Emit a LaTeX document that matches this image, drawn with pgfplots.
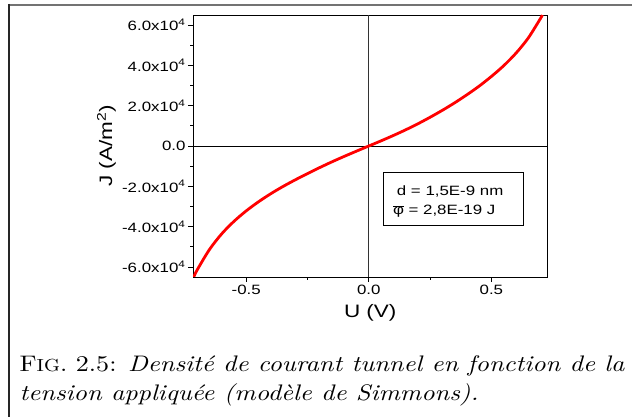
\documentclass[border=0pt]{standalone}
\usepackage{fontspec}
\usepackage{pgfplots}
\pgfplotsset{compat=1.18}
\newfontfamily\chartfont[FakeStretch=1.25]{Liberation Sans}
\newfontfamily\capfont{lmroman10}[Extension=.otf, UprightFont=*-regular, ItalicFont=*-italic, FakeStretch=1.16]
\pgfplotstableread{
U J
-0.714 -65000
-0.70 -61500
-0.65 -51400
-0.60 -43600
-0.55 -37400
-0.50 -32200
-0.45 -27700
-0.40 -23700
-0.35 -20100
-0.30 -16800
-0.25 -13700
-0.20 -10700
-0.15 -7850
-0.10 -5150
-0.05 -2550
0 0
0.05 2550
0.10 5200
0.15 8000
0.20 11000
0.25 14250
0.30 17700
0.35 21400
0.40 25400
0.45 29700
0.50 34500
0.55 39800
0.60 46000
0.65 53500
0.70 63200
0.708 65000
}\simmons
\begin{document}
\begin{tikzpicture}
\useasboundingbox (0pt,0pt) rectangle (632pt,417pt);
\draw[color=black!55, line width=1.6pt] (8pt,412pt) -- (632pt,412pt);
\draw[color=black!85, line width=1.3pt] (9pt,413pt) -- (9pt,0pt);
\begin{axis}[
  at={(193pt,140pt)}, anchor=south west,
  scale only axis, width=354.5pt, height=262pt,
  xmin=-0.717, xmax=0.729, ymin=-65000, ymax=65000,
  axis line style={line width=0.8pt},
  xtick={-0.5,0,0.5}, xticklabels={-0.5,0.0,0.5},
  minor xtick={-0.25,0.25},
  ytick={-60000,-40000,-20000,0,20000,40000,60000},
  yticklabels={-6.0x10\textsuperscript{4},-4.0x10\textsuperscript{4},-2.0x10\textsuperscript{4},0.0,2.0x10\textsuperscript{4},4.0x10\textsuperscript{4},6.0x10\textsuperscript{4}},
  minor ytick={-50000,-30000,-10000,10000,30000,50000},
  tick align=outside, tick pos=left,
  major tick length=5pt, minor tick length=3pt,
  tick style={black, line width=0.8pt},
  ticklabel style={font=\chartfont\fontsize{13.5}{15}\selectfont},
  yticklabel style={xshift=1pt},
  scaled ticks=false,
  xlabel={U (V)}, ylabel={J (A/m\textsuperscript{2})},
  label style={font=\chartfont\fontsize{18}{20}\selectfont},
  xlabel style={at={(axis description cs:0.5,0)}, anchor=base, yshift=-41pt},
  ylabel style={at={(axis description cs:-0.228,0.5)}, anchor=base},
  clip=true,
]
\draw[black, line width=0.8pt] (axis cs:-0.717,0) -- (axis cs:0.729,0);
\draw[black!80, line width=0.8pt] (axis cs:0,-65000) -- (axis cs:0,65000);
\addplot[red, line width=2.8pt, smooth] table[x=U, y=J] {\simmons};
\node[draw=black, line width=0.8pt, fill=white, minimum width=140pt, minimum height=53pt, inner sep=0pt] at (axis cs:0.347,-26050) {};
\node[anchor=base west, inner sep=0pt, font=\chartfont\fontsize{13.5}{15}\selectfont] at (axis cs:0.114,-24800) {d = 1,5E-9 nm};
\node[anchor=base west, inner sep=0pt, font=\chartfont\fontsize{13.5}{15}\selectfont] at (axis cs:0.098,-34200) {\ensuremath{\overline{\hbox{φ}}} = 2,8E-19 J};
\end{axis}
\node[anchor=base west, inner sep=0pt, font=\capfont\fontsize{22.5}{29}\selectfont] at (19.5pt,45pt) {F{\fontsize{17.5}{29}\selectfont IG}. 2.5: \textit{Densité de courant tunnel en fonction de la}};
\node[anchor=base west, inner sep=0pt, font=\capfont\fontsize{22.5}{29}\selectfont] at (19.5pt,16pt) {\textit{tension appliquée (modèle de Simmons).}};
\end{tikzpicture}
\end{document}
